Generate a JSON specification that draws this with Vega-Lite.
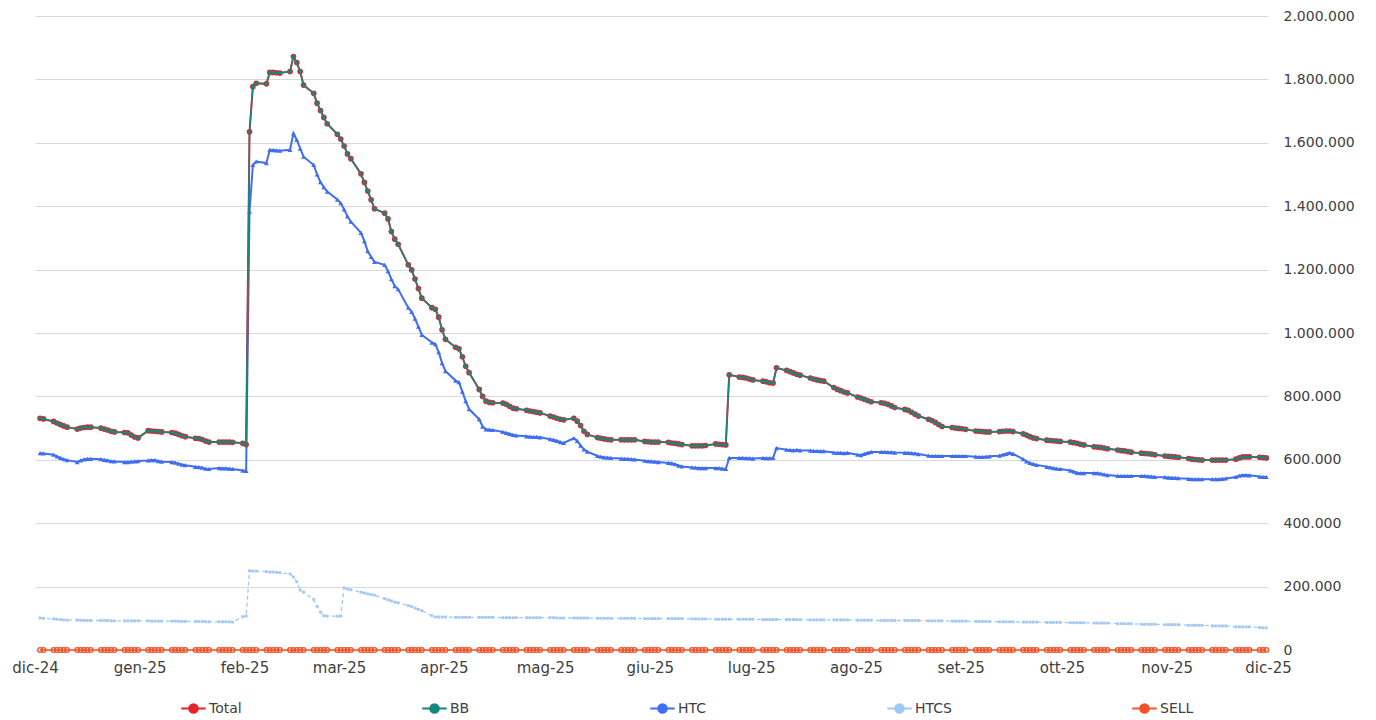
{
"$schema": "https://vega.github.io/schema/vega-lite/v6.json",
"width": 1233, "height": 634,
"autosize": {"type": "none"},
"padding": {"left": 35, "top": 16, "right": 108, "bottom": 70},
"background": "white",
"config": {
  "view": {"stroke": null},
  "font": "DejaVu Sans",
  "locale": {
    "number": {"decimal": ",", "thousands": ".", "grouping": [3], "currency": ["€", ""]},
    "time": {"dateTime": "%A %e %B %Y, %X", "date": "%d/%m/%Y", "time": "%H:%M:%S", "periods": ["AM", "PM"],
      "days": ["domenica","lunedì","martedì","mercoledì","giovedì","venerdì","sabato"],
      "shortDays": ["dom","lun","mar","mer","gio","ven","sab"],
      "months": ["gennaio","febbraio","marzo","aprile","maggio","giugno","luglio","agosto","settembre","ottobre","novembre","dicembre"],
      "shortMonths": ["gen","feb","mar","apr","mag","giu","lug","ago","set","ott","nov","dic"]}
  }
},
"data": {"values": [
{"d":"2024-12-05","Total":731000,"BB":731000,"HTC":621000,"HTCS":101000,"SELL":0},
{"d":"2024-12-06","Total":729000,"BB":729000,"HTC":620000,"HTCS":100000,"SELL":0},
{"d":"2024-12-09","Total":721000,"BB":721000,"HTC":616000,"HTCS":98000,"SELL":0},
{"d":"2024-12-10","Total":716000,"BB":716000,"HTC":611000,"HTCS":97000,"SELL":0},
{"d":"2024-12-11","Total":711000,"BB":711000,"HTC":606000,"HTCS":96000,"SELL":0},
{"d":"2024-12-12","Total":707000,"BB":707000,"HTC":602000,"HTCS":95000,"SELL":0},
{"d":"2024-12-13","Total":703000,"BB":703000,"HTC":599000,"HTCS":94000,"SELL":0},
{"d":"2024-12-16","Total":697000,"BB":697000,"HTC":593000,"HTCS":94000,"SELL":0},
{"d":"2024-12-17","Total":700000,"BB":700000,"HTC":598000,"HTCS":94000,"SELL":0},
{"d":"2024-12-18","Total":702000,"BB":702000,"HTC":601000,"HTCS":93000,"SELL":0},
{"d":"2024-12-19","Total":703000,"BB":703000,"HTC":603000,"HTCS":93000,"SELL":0},
{"d":"2024-12-20","Total":703000,"BB":703000,"HTC":603000,"HTCS":93000,"SELL":0},
{"d":"2024-12-23","Total":700000,"BB":700000,"HTC":602000,"HTCS":93000,"SELL":0},
{"d":"2024-12-24","Total":697000,"BB":697000,"HTC":600000,"HTCS":93000,"SELL":0},
{"d":"2024-12-25","Total":694000,"BB":694000,"HTC":598000,"HTCS":93000,"SELL":0},
{"d":"2024-12-26","Total":690000,"BB":690000,"HTC":596000,"HTCS":92000,"SELL":0},
{"d":"2024-12-27","Total":688000,"BB":688000,"HTC":595000,"HTCS":92000,"SELL":0},
{"d":"2024-12-30","Total":686000,"BB":686000,"HTC":593000,"HTCS":92000,"SELL":0},
{"d":"2024-12-31","Total":685000,"BB":685000,"HTC":593000,"HTCS":92000,"SELL":0},
{"d":"2025-01-01","Total":678000,"BB":678000,"HTC":594000,"HTCS":92000,"SELL":0},
{"d":"2025-01-02","Total":672000,"BB":672000,"HTC":595000,"HTCS":92000,"SELL":0},
{"d":"2025-01-03","Total":669000,"BB":669000,"HTC":596000,"HTCS":92000,"SELL":0},
{"d":"2025-01-06","Total":692000,"BB":692000,"HTC":598000,"HTCS":92000,"SELL":0},
{"d":"2025-01-07","Total":691000,"BB":691000,"HTC":599000,"HTCS":91000,"SELL":0},
{"d":"2025-01-08","Total":690000,"BB":690000,"HTC":599000,"HTCS":91000,"SELL":0},
{"d":"2025-01-09","Total":689000,"BB":689000,"HTC":596000,"HTCS":91000,"SELL":0},
{"d":"2025-01-10","Total":688000,"BB":688000,"HTC":594000,"HTCS":91000,"SELL":0},
{"d":"2025-01-13","Total":686000,"BB":686000,"HTC":593000,"HTCS":91000,"SELL":0},
{"d":"2025-01-14","Total":684000,"BB":684000,"HTC":591000,"HTCS":91000,"SELL":0},
{"d":"2025-01-15","Total":680000,"BB":680000,"HTC":588000,"HTCS":91000,"SELL":0},
{"d":"2025-01-16","Total":676000,"BB":676000,"HTC":585000,"HTCS":90000,"SELL":0},
{"d":"2025-01-17","Total":673000,"BB":673000,"HTC":583000,"HTCS":90000,"SELL":0},
{"d":"2025-01-20","Total":668000,"BB":668000,"HTC":578000,"HTCS":90000,"SELL":0},
{"d":"2025-01-21","Total":667000,"BB":667000,"HTC":577000,"HTCS":90000,"SELL":0},
{"d":"2025-01-22","Total":664000,"BB":664000,"HTC":575000,"HTCS":90000,"SELL":0},
{"d":"2025-01-23","Total":659000,"BB":659000,"HTC":572000,"HTCS":89000,"SELL":0},
{"d":"2025-01-24","Total":656000,"BB":656000,"HTC":571000,"HTCS":89000,"SELL":0},
{"d":"2025-01-27","Total":656000,"BB":656000,"HTC":574000,"HTCS":89000,"SELL":0},
{"d":"2025-01-28","Total":656000,"BB":656000,"HTC":573000,"HTCS":89000,"SELL":0},
{"d":"2025-01-29","Total":656000,"BB":656000,"HTC":573000,"HTCS":89000,"SELL":0},
{"d":"2025-01-30","Total":656000,"BB":656000,"HTC":572000,"HTCS":89000,"SELL":0},
{"d":"2025-01-31","Total":655000,"BB":655000,"HTC":571000,"HTCS":88000,"SELL":0},
{"d":"2025-02-03","Total":652000,"BB":652000,"HTC":566000,"HTCS":105000,"SELL":0},
{"d":"2025-02-04","Total":648000,"BB":648000,"HTC":565000,"HTCS":107000,"SELL":0},
{"d":"2025-02-05","Total":1635000,"BB":1635000,"HTC":1383000,"HTCS":250000,"SELL":0},
{"d":"2025-02-06","Total":1777000,"BB":1777000,"HTC":1530000,"HTCS":249000,"SELL":0},
{"d":"2025-02-07","Total":1788000,"BB":1788000,"HTC":1541000,"HTCS":249000,"SELL":0},
{"d":"2025-02-10","Total":1786000,"BB":1786000,"HTC":1536000,"HTCS":247000,"SELL":0},
{"d":"2025-02-11","Total":1822000,"BB":1822000,"HTC":1578000,"HTCS":246000,"SELL":0},
{"d":"2025-02-12","Total":1822000,"BB":1822000,"HTC":1577000,"HTCS":246000,"SELL":0},
{"d":"2025-02-13","Total":1821000,"BB":1821000,"HTC":1576000,"HTCS":245000,"SELL":0},
{"d":"2025-02-14","Total":1820000,"BB":1820000,"HTC":1575000,"HTCS":244000,"SELL":0},
{"d":"2025-02-17","Total":1825000,"BB":1825000,"HTC":1578000,"HTCS":240000,"SELL":0},
{"d":"2025-02-18","Total":1872000,"BB":1872000,"HTC":1630000,"HTCS":230000,"SELL":0},
{"d":"2025-02-19","Total":1853000,"BB":1853000,"HTC":1609000,"HTCS":215000,"SELL":0},
{"d":"2025-02-20","Total":1825000,"BB":1825000,"HTC":1582000,"HTCS":189000,"SELL":0},
{"d":"2025-02-21","Total":1782000,"BB":1782000,"HTC":1556000,"HTCS":182000,"SELL":0},
{"d":"2025-02-24","Total":1756000,"BB":1756000,"HTC":1530000,"HTCS":160000,"SELL":0},
{"d":"2025-02-25","Total":1725000,"BB":1725000,"HTC":1500000,"HTCS":138000,"SELL":0},
{"d":"2025-02-26","Total":1702000,"BB":1702000,"HTC":1476000,"HTCS":120000,"SELL":0},
{"d":"2025-02-27","Total":1680000,"BB":1680000,"HTC":1460000,"HTCS":108000,"SELL":0},
{"d":"2025-02-28","Total":1660000,"BB":1660000,"HTC":1446000,"HTCS":107000,"SELL":0},
{"d":"2025-03-03","Total":1627000,"BB":1627000,"HTC":1421000,"HTCS":107000,"SELL":0},
{"d":"2025-03-04","Total":1612000,"BB":1612000,"HTC":1410000,"HTCS":107000,"SELL":0},
{"d":"2025-03-05","Total":1590000,"BB":1590000,"HTC":1390000,"HTCS":196000,"SELL":0},
{"d":"2025-03-06","Total":1565000,"BB":1565000,"HTC":1368000,"HTCS":192000,"SELL":0},
{"d":"2025-03-07","Total":1550000,"BB":1550000,"HTC":1351000,"HTCS":190000,"SELL":0},
{"d":"2025-03-10","Total":1502000,"BB":1502000,"HTC":1316000,"HTCS":182000,"SELL":0},
{"d":"2025-03-11","Total":1475000,"BB":1475000,"HTC":1290000,"HTCS":180000,"SELL":0},
{"d":"2025-03-12","Total":1448000,"BB":1448000,"HTC":1258000,"HTCS":177000,"SELL":0},
{"d":"2025-03-13","Total":1420000,"BB":1420000,"HTC":1240000,"HTCS":175000,"SELL":0},
{"d":"2025-03-14","Total":1392000,"BB":1392000,"HTC":1224000,"HTCS":173000,"SELL":0},
{"d":"2025-03-17","Total":1378000,"BB":1378000,"HTC":1215000,"HTCS":162000,"SELL":0},
{"d":"2025-03-18","Total":1360000,"BB":1360000,"HTC":1195000,"HTCS":158000,"SELL":0},
{"d":"2025-03-19","Total":1320000,"BB":1320000,"HTC":1170000,"HTCS":155000,"SELL":0},
{"d":"2025-03-20","Total":1296000,"BB":1296000,"HTC":1148000,"HTCS":151000,"SELL":0},
{"d":"2025-03-21","Total":1280000,"BB":1280000,"HTC":1138000,"HTCS":149000,"SELL":0},
{"d":"2025-03-24","Total":1215000,"BB":1215000,"HTC":1080000,"HTCS":140000,"SELL":0},
{"d":"2025-03-25","Total":1199000,"BB":1199000,"HTC":1067000,"HTCS":137000,"SELL":0},
{"d":"2025-03-26","Total":1170000,"BB":1170000,"HTC":1045000,"HTCS":132000,"SELL":0},
{"d":"2025-03-27","Total":1140000,"BB":1140000,"HTC":1020000,"HTCS":128000,"SELL":0},
{"d":"2025-03-28","Total":1110000,"BB":1110000,"HTC":994000,"HTCS":124000,"SELL":0},
{"d":"2025-03-31","Total":1080000,"BB":1080000,"HTC":970000,"HTCS":108000,"SELL":0},
{"d":"2025-04-01","Total":1075000,"BB":1075000,"HTC":965000,"HTCS":104000,"SELL":0},
{"d":"2025-04-02","Total":1050000,"BB":1050000,"HTC":940000,"HTCS":104000,"SELL":0},
{"d":"2025-04-03","Total":1010000,"BB":1010000,"HTC":905000,"HTCS":104000,"SELL":0},
{"d":"2025-04-04","Total":980000,"BB":980000,"HTC":880000,"HTCS":104000,"SELL":0},
{"d":"2025-04-07","Total":955000,"BB":955000,"HTC":850000,"HTCS":103000,"SELL":0},
{"d":"2025-04-08","Total":950000,"BB":950000,"HTC":845000,"HTCS":103000,"SELL":0},
{"d":"2025-04-09","Total":925000,"BB":925000,"HTC":815000,"HTCS":103000,"SELL":0},
{"d":"2025-04-10","Total":895000,"BB":895000,"HTC":785000,"HTCS":103000,"SELL":0},
{"d":"2025-04-11","Total":875000,"BB":875000,"HTC":760000,"HTCS":103000,"SELL":0},
{"d":"2025-04-14","Total":822000,"BB":822000,"HTC":728000,"HTCS":103000,"SELL":0},
{"d":"2025-04-15","Total":800000,"BB":800000,"HTC":705000,"HTCS":103000,"SELL":0},
{"d":"2025-04-16","Total":785000,"BB":785000,"HTC":696000,"HTCS":103000,"SELL":0},
{"d":"2025-04-17","Total":781000,"BB":781000,"HTC":695000,"HTCS":103000,"SELL":0},
{"d":"2025-04-18","Total":780000,"BB":780000,"HTC":694000,"HTCS":103000,"SELL":0},
{"d":"2025-04-21","Total":779000,"BB":779000,"HTC":688000,"HTCS":102000,"SELL":0},
{"d":"2025-04-22","Total":775000,"BB":775000,"HTC":685000,"HTCS":102000,"SELL":0},
{"d":"2025-04-23","Total":769000,"BB":769000,"HTC":682000,"HTCS":102000,"SELL":0},
{"d":"2025-04-24","Total":763000,"BB":763000,"HTC":679000,"HTCS":102000,"SELL":0},
{"d":"2025-04-25","Total":761000,"BB":761000,"HTC":677000,"HTCS":102000,"SELL":0},
{"d":"2025-04-28","Total":756000,"BB":756000,"HTC":674000,"HTCS":102000,"SELL":0},
{"d":"2025-04-29","Total":754000,"BB":754000,"HTC":673000,"HTCS":102000,"SELL":0},
{"d":"2025-04-30","Total":752000,"BB":752000,"HTC":672000,"HTCS":102000,"SELL":0},
{"d":"2025-05-01","Total":750000,"BB":750000,"HTC":672000,"HTCS":102000,"SELL":0},
{"d":"2025-05-02","Total":748000,"BB":748000,"HTC":671000,"HTCS":102000,"SELL":0},
{"d":"2025-05-05","Total":738000,"BB":738000,"HTC":665000,"HTCS":102000,"SELL":0},
{"d":"2025-05-06","Total":735000,"BB":735000,"HTC":663000,"HTCS":102000,"SELL":0},
{"d":"2025-05-07","Total":731000,"BB":731000,"HTC":660000,"HTCS":101000,"SELL":0},
{"d":"2025-05-08","Total":728000,"BB":728000,"HTC":656000,"HTCS":101000,"SELL":0},
{"d":"2025-05-09","Total":726000,"BB":726000,"HTC":653000,"HTCS":101000,"SELL":0},
{"d":"2025-05-12","Total":731000,"BB":731000,"HTC":668000,"HTCS":101000,"SELL":0},
{"d":"2025-05-13","Total":722000,"BB":722000,"HTC":660000,"HTCS":101000,"SELL":0},
{"d":"2025-05-14","Total":708000,"BB":708000,"HTC":645000,"HTCS":101000,"SELL":0},
{"d":"2025-05-15","Total":690000,"BB":690000,"HTC":633000,"HTCS":101000,"SELL":0},
{"d":"2025-05-16","Total":680000,"BB":680000,"HTC":626000,"HTCS":101000,"SELL":0},
{"d":"2025-05-19","Total":670000,"BB":670000,"HTC":612000,"HTCS":100000,"SELL":0},
{"d":"2025-05-20","Total":668000,"BB":668000,"HTC":610000,"HTCS":100000,"SELL":0},
{"d":"2025-05-21","Total":666000,"BB":666000,"HTC":608000,"HTCS":100000,"SELL":0},
{"d":"2025-05-22","Total":664000,"BB":664000,"HTC":607000,"HTCS":100000,"SELL":0},
{"d":"2025-05-23","Total":663000,"BB":663000,"HTC":606000,"HTCS":100000,"SELL":0},
{"d":"2025-05-26","Total":663000,"BB":663000,"HTC":604000,"HTCS":100000,"SELL":0},
{"d":"2025-05-27","Total":663000,"BB":663000,"HTC":603000,"HTCS":100000,"SELL":0},
{"d":"2025-05-28","Total":663000,"BB":663000,"HTC":603000,"HTCS":100000,"SELL":0},
{"d":"2025-05-29","Total":663000,"BB":663000,"HTC":602000,"HTCS":100000,"SELL":0},
{"d":"2025-05-30","Total":663000,"BB":663000,"HTC":601000,"HTCS":100000,"SELL":0},
{"d":"2025-06-02","Total":658000,"BB":658000,"HTC":597000,"HTCS":99000,"SELL":0},
{"d":"2025-06-03","Total":657000,"BB":657000,"HTC":596000,"HTCS":99000,"SELL":0},
{"d":"2025-06-04","Total":656000,"BB":656000,"HTC":595000,"HTCS":99000,"SELL":0},
{"d":"2025-06-05","Total":656000,"BB":656000,"HTC":594000,"HTCS":99000,"SELL":0},
{"d":"2025-06-06","Total":656000,"BB":656000,"HTC":593000,"HTCS":99000,"SELL":0},
{"d":"2025-06-09","Total":655000,"BB":655000,"HTC":590000,"HTCS":99000,"SELL":0},
{"d":"2025-06-10","Total":653000,"BB":653000,"HTC":589000,"HTCS":99000,"SELL":0},
{"d":"2025-06-11","Total":652000,"BB":652000,"HTC":586000,"HTCS":99000,"SELL":0},
{"d":"2025-06-12","Total":650000,"BB":650000,"HTC":582000,"HTCS":99000,"SELL":0},
{"d":"2025-06-13","Total":648000,"BB":648000,"HTC":579000,"HTCS":99000,"SELL":0},
{"d":"2025-06-16","Total":644000,"BB":644000,"HTC":576000,"HTCS":98000,"SELL":0},
{"d":"2025-06-17","Total":644000,"BB":644000,"HTC":575000,"HTCS":98000,"SELL":0},
{"d":"2025-06-18","Total":644000,"BB":644000,"HTC":574000,"HTCS":98000,"SELL":0},
{"d":"2025-06-19","Total":644000,"BB":644000,"HTC":574000,"HTCS":98000,"SELL":0},
{"d":"2025-06-20","Total":645000,"BB":645000,"HTC":574000,"HTCS":98000,"SELL":0},
{"d":"2025-06-23","Total":650000,"BB":650000,"HTC":574000,"HTCS":97000,"SELL":0},
{"d":"2025-06-24","Total":649000,"BB":649000,"HTC":574000,"HTCS":97000,"SELL":0},
{"d":"2025-06-25","Total":648000,"BB":648000,"HTC":572000,"HTCS":97000,"SELL":0},
{"d":"2025-06-26","Total":647000,"BB":647000,"HTC":571000,"HTCS":97000,"SELL":0},
{"d":"2025-06-27","Total":868000,"BB":868000,"HTC":606000,"HTCS":97000,"SELL":0},
{"d":"2025-06-30","Total":861000,"BB":861000,"HTC":606000,"HTCS":97000,"SELL":0},
{"d":"2025-07-01","Total":860000,"BB":860000,"HTC":606000,"HTCS":97000,"SELL":0},
{"d":"2025-07-02","Total":858000,"BB":858000,"HTC":605000,"HTCS":97000,"SELL":0},
{"d":"2025-07-03","Total":855000,"BB":855000,"HTC":605000,"HTCS":97000,"SELL":0},
{"d":"2025-07-04","Total":852000,"BB":852000,"HTC":604000,"HTCS":97000,"SELL":0},
{"d":"2025-07-07","Total":848000,"BB":848000,"HTC":606000,"HTCS":96000,"SELL":0},
{"d":"2025-07-08","Total":846000,"BB":846000,"HTC":605000,"HTCS":96000,"SELL":0},
{"d":"2025-07-09","Total":843000,"BB":843000,"HTC":605000,"HTCS":96000,"SELL":0},
{"d":"2025-07-10","Total":842000,"BB":842000,"HTC":606000,"HTCS":96000,"SELL":0},
{"d":"2025-07-11","Total":890000,"BB":890000,"HTC":637000,"HTCS":96000,"SELL":0},
{"d":"2025-07-14","Total":882000,"BB":882000,"HTC":632000,"HTCS":96000,"SELL":0},
{"d":"2025-07-15","Total":878000,"BB":878000,"HTC":631000,"HTCS":96000,"SELL":0},
{"d":"2025-07-16","Total":874000,"BB":874000,"HTC":630000,"HTCS":96000,"SELL":0},
{"d":"2025-07-17","Total":870000,"BB":870000,"HTC":631000,"HTCS":96000,"SELL":0},
{"d":"2025-07-18","Total":867000,"BB":867000,"HTC":630000,"HTCS":96000,"SELL":0},
{"d":"2025-07-21","Total":858000,"BB":858000,"HTC":629000,"HTCS":95000,"SELL":0},
{"d":"2025-07-22","Total":855000,"BB":855000,"HTC":628000,"HTCS":95000,"SELL":0},
{"d":"2025-07-23","Total":852000,"BB":852000,"HTC":628000,"HTCS":95000,"SELL":0},
{"d":"2025-07-24","Total":850000,"BB":850000,"HTC":627000,"HTCS":95000,"SELL":0},
{"d":"2025-07-25","Total":848000,"BB":848000,"HTC":627000,"HTCS":95000,"SELL":0},
{"d":"2025-07-28","Total":828000,"BB":828000,"HTC":623000,"HTCS":95000,"SELL":0},
{"d":"2025-07-29","Total":822000,"BB":822000,"HTC":622000,"HTCS":95000,"SELL":0},
{"d":"2025-07-30","Total":818000,"BB":818000,"HTC":622000,"HTCS":95000,"SELL":0},
{"d":"2025-07-31","Total":814000,"BB":814000,"HTC":621000,"HTCS":95000,"SELL":0},
{"d":"2025-08-01","Total":811000,"BB":811000,"HTC":622000,"HTCS":95000,"SELL":0},
{"d":"2025-08-04","Total":798000,"BB":798000,"HTC":616000,"HTCS":94000,"SELL":0},
{"d":"2025-08-05","Total":795000,"BB":795000,"HTC":615000,"HTCS":94000,"SELL":0},
{"d":"2025-08-06","Total":791000,"BB":791000,"HTC":619000,"HTCS":94000,"SELL":0},
{"d":"2025-08-07","Total":787000,"BB":787000,"HTC":622000,"HTCS":94000,"SELL":0},
{"d":"2025-08-08","Total":783000,"BB":783000,"HTC":625000,"HTCS":94000,"SELL":0},
{"d":"2025-08-11","Total":780000,"BB":780000,"HTC":625000,"HTCS":93000,"SELL":0},
{"d":"2025-08-12","Total":778000,"BB":778000,"HTC":625000,"HTCS":93000,"SELL":0},
{"d":"2025-08-13","Total":775000,"BB":775000,"HTC":624000,"HTCS":93000,"SELL":0},
{"d":"2025-08-14","Total":770000,"BB":770000,"HTC":624000,"HTCS":93000,"SELL":0},
{"d":"2025-08-15","Total":765000,"BB":765000,"HTC":623000,"HTCS":93000,"SELL":0},
{"d":"2025-08-18","Total":759000,"BB":759000,"HTC":622000,"HTCS":93000,"SELL":0},
{"d":"2025-08-19","Total":756000,"BB":756000,"HTC":622000,"HTCS":93000,"SELL":0},
{"d":"2025-08-20","Total":750000,"BB":750000,"HTC":621000,"HTCS":93000,"SELL":0},
{"d":"2025-08-21","Total":744000,"BB":744000,"HTC":620000,"HTCS":93000,"SELL":0},
{"d":"2025-08-22","Total":738000,"BB":738000,"HTC":618000,"HTCS":93000,"SELL":0},
{"d":"2025-08-25","Total":728000,"BB":728000,"HTC":613000,"HTCS":92000,"SELL":0},
{"d":"2025-08-26","Total":724000,"BB":724000,"HTC":612000,"HTCS":92000,"SELL":0},
{"d":"2025-08-27","Total":718000,"BB":718000,"HTC":612000,"HTCS":92000,"SELL":0},
{"d":"2025-08-28","Total":711000,"BB":711000,"HTC":612000,"HTCS":92000,"SELL":0},
{"d":"2025-08-29","Total":705000,"BB":705000,"HTC":612000,"HTCS":92000,"SELL":0},
{"d":"2025-09-01","Total":702000,"BB":702000,"HTC":612000,"HTCS":91000,"SELL":0},
{"d":"2025-09-02","Total":700000,"BB":700000,"HTC":612000,"HTCS":91000,"SELL":0},
{"d":"2025-09-03","Total":699000,"BB":699000,"HTC":612000,"HTCS":91000,"SELL":0},
{"d":"2025-09-04","Total":698000,"BB":698000,"HTC":612000,"HTCS":91000,"SELL":0},
{"d":"2025-09-05","Total":696000,"BB":696000,"HTC":612000,"HTCS":91000,"SELL":0},
{"d":"2025-09-08","Total":691000,"BB":691000,"HTC":610000,"HTCS":90000,"SELL":0},
{"d":"2025-09-09","Total":690000,"BB":690000,"HTC":609000,"HTCS":90000,"SELL":0},
{"d":"2025-09-10","Total":689000,"BB":689000,"HTC":609000,"HTCS":90000,"SELL":0},
{"d":"2025-09-11","Total":688000,"BB":688000,"HTC":610000,"HTCS":90000,"SELL":0},
{"d":"2025-09-12","Total":688000,"BB":688000,"HTC":611000,"HTCS":90000,"SELL":0},
{"d":"2025-09-15","Total":689000,"BB":689000,"HTC":613000,"HTCS":89000,"SELL":0},
{"d":"2025-09-16","Total":690000,"BB":690000,"HTC":616000,"HTCS":89000,"SELL":0},
{"d":"2025-09-17","Total":691000,"BB":691000,"HTC":619000,"HTCS":89000,"SELL":0},
{"d":"2025-09-18","Total":691000,"BB":691000,"HTC":622000,"HTCS":89000,"SELL":0},
{"d":"2025-09-19","Total":689000,"BB":689000,"HTC":619000,"HTCS":89000,"SELL":0},
{"d":"2025-09-22","Total":682000,"BB":682000,"HTC":602000,"HTCS":88000,"SELL":0},
{"d":"2025-09-23","Total":678000,"BB":678000,"HTC":595000,"HTCS":88000,"SELL":0},
{"d":"2025-09-24","Total":673000,"BB":673000,"HTC":590000,"HTCS":88000,"SELL":0},
{"d":"2025-09-25","Total":669000,"BB":669000,"HTC":587000,"HTCS":88000,"SELL":0},
{"d":"2025-09-26","Total":667000,"BB":667000,"HTC":584000,"HTCS":88000,"SELL":0},
{"d":"2025-09-29","Total":662000,"BB":662000,"HTC":578000,"HTCS":87000,"SELL":0},
{"d":"2025-09-30","Total":661000,"BB":661000,"HTC":576000,"HTCS":87000,"SELL":0},
{"d":"2025-10-01","Total":660000,"BB":660000,"HTC":574000,"HTCS":87000,"SELL":0},
{"d":"2025-10-02","Total":659000,"BB":659000,"HTC":572000,"HTCS":87000,"SELL":0},
{"d":"2025-10-03","Total":658000,"BB":658000,"HTC":571000,"HTCS":87000,"SELL":0},
{"d":"2025-10-06","Total":656000,"BB":656000,"HTC":566000,"HTCS":86000,"SELL":0},
{"d":"2025-10-07","Total":654000,"BB":654000,"HTC":563000,"HTCS":86000,"SELL":0},
{"d":"2025-10-08","Total":652000,"BB":652000,"HTC":559000,"HTCS":86000,"SELL":0},
{"d":"2025-10-09","Total":649000,"BB":649000,"HTC":558000,"HTCS":86000,"SELL":0},
{"d":"2025-10-10","Total":647000,"BB":647000,"HTC":558000,"HTCS":86000,"SELL":0},
{"d":"2025-10-13","Total":641000,"BB":641000,"HTC":558000,"HTCS":85000,"SELL":0},
{"d":"2025-10-14","Total":640000,"BB":640000,"HTC":558000,"HTCS":85000,"SELL":0},
{"d":"2025-10-15","Total":639000,"BB":639000,"HTC":556000,"HTCS":85000,"SELL":0},
{"d":"2025-10-16","Total":637000,"BB":637000,"HTC":554000,"HTCS":85000,"SELL":0},
{"d":"2025-10-17","Total":635000,"BB":635000,"HTC":552000,"HTCS":85000,"SELL":0},
{"d":"2025-10-20","Total":631000,"BB":631000,"HTC":549000,"HTCS":83000,"SELL":0},
{"d":"2025-10-21","Total":629000,"BB":629000,"HTC":549000,"HTCS":83000,"SELL":0},
{"d":"2025-10-22","Total":628000,"BB":628000,"HTC":549000,"HTCS":83000,"SELL":0},
{"d":"2025-10-23","Total":626000,"BB":626000,"HTC":549000,"HTCS":83000,"SELL":0},
{"d":"2025-10-24","Total":624000,"BB":624000,"HTC":549000,"HTCS":83000,"SELL":0},
{"d":"2025-10-27","Total":621000,"BB":621000,"HTC":549000,"HTCS":81000,"SELL":0},
{"d":"2025-10-28","Total":620000,"BB":620000,"HTC":549000,"HTCS":81000,"SELL":0},
{"d":"2025-10-29","Total":619000,"BB":619000,"HTC":548000,"HTCS":81000,"SELL":0},
{"d":"2025-10-30","Total":618000,"BB":618000,"HTC":547000,"HTCS":81000,"SELL":0},
{"d":"2025-10-31","Total":616000,"BB":616000,"HTC":546000,"HTCS":81000,"SELL":0},
{"d":"2025-11-03","Total":612000,"BB":612000,"HTC":545000,"HTCS":80000,"SELL":0},
{"d":"2025-11-04","Total":611000,"BB":611000,"HTC":544000,"HTCS":80000,"SELL":0},
{"d":"2025-11-05","Total":610000,"BB":610000,"HTC":543000,"HTCS":80000,"SELL":0},
{"d":"2025-11-06","Total":609000,"BB":609000,"HTC":543000,"HTCS":80000,"SELL":0},
{"d":"2025-11-07","Total":608000,"BB":608000,"HTC":542000,"HTCS":80000,"SELL":0},
{"d":"2025-11-10","Total":604000,"BB":604000,"HTC":540000,"HTCS":78000,"SELL":0},
{"d":"2025-11-11","Total":602000,"BB":602000,"HTC":539000,"HTCS":78000,"SELL":0},
{"d":"2025-11-12","Total":601000,"BB":601000,"HTC":539000,"HTCS":78000,"SELL":0},
{"d":"2025-11-13","Total":600000,"BB":600000,"HTC":539000,"HTCS":78000,"SELL":0},
{"d":"2025-11-14","Total":599000,"BB":599000,"HTC":539000,"HTCS":78000,"SELL":0},
{"d":"2025-11-17","Total":599000,"BB":599000,"HTC":539000,"HTCS":76000,"SELL":0},
{"d":"2025-11-18","Total":599000,"BB":599000,"HTC":539000,"HTCS":76000,"SELL":0},
{"d":"2025-11-19","Total":599000,"BB":599000,"HTC":539000,"HTCS":76000,"SELL":0},
{"d":"2025-11-20","Total":599000,"BB":599000,"HTC":540000,"HTCS":76000,"SELL":0},
{"d":"2025-11-21","Total":599000,"BB":599000,"HTC":541000,"HTCS":76000,"SELL":0},
{"d":"2025-11-24","Total":602000,"BB":602000,"HTC":546000,"HTCS":73000,"SELL":0},
{"d":"2025-11-25","Total":606000,"BB":606000,"HTC":550000,"HTCS":73000,"SELL":0},
{"d":"2025-11-26","Total":609000,"BB":609000,"HTC":552000,"HTCS":73000,"SELL":0},
{"d":"2025-11-27","Total":609000,"BB":609000,"HTC":552000,"HTCS":73000,"SELL":0},
{"d":"2025-11-28","Total":609000,"BB":609000,"HTC":551000,"HTCS":73000,"SELL":0},
{"d":"2025-12-01","Total":608000,"BB":608000,"HTC":547000,"HTCS":71000,"SELL":0},
{"d":"2025-12-02","Total":607000,"BB":607000,"HTC":546000,"HTCS":70000,"SELL":0},
{"d":"2025-12-03","Total":606000,"BB":606000,"HTC":546000,"HTCS":70000,"SELL":0}
]},
"transform": [{"fold": ["Total", "BB", "HTC", "HTCS", "SELL"], "as": ["Serie", "v"]}],
"encoding": {
  "x": {"field": "d", "type": "temporal",
    "scale": {"type": "utc", "domain": [1733227200000, 1764763200000]},
    "axis": {"title": null, "values": [1733227200000, 1735905600000, 1738584000000, 1741003200000, 1743681600000, 1746273600000, 1748952000000, 1751544000000, 1754222400000, 1756900800000, 1759492800000, 1762171200000, 1764763200000],
      "labelExpr": "utcFormat(datum.value, '%b-%y')", "labelFontSize": 15, "labelColor": "#404040", "labelPadding": 10,
      "grid": false, "domain": false, "ticks": false, "labelFlush": false, "labelOverlap": false}},
  "y": {"field": "v", "type": "quantitative",
    "scale": {"domain": [0, 2000000], "nice": false, "zero": true},
    "axis": {"orient": "right", "title": null, "values": [0, 200000, 400000, 600000, 800000, 1000000, 1200000, 1400000, 1600000, 1800000, 2000000],
      "format": ",.0f", "labelFontSize": 14, "labelColor": "#404040", "labelPadding": 15,
      "grid": true, "gridColor": "#d9d9d9", "gridWidth": 1, "domain": false, "ticks": false}},
  "color": {"field": "Serie", "type": "nominal",
    "scale": {"domain": ["Total", "BB", "HTC", "HTCS", "SELL"], "range": ["#e5222d", "#17877a", "#3f6ef2", "#a4c8f4", "#f2532a"]},
    "legend": {"title": null, "orient": "none", "legendX": 145, "legendY": 679, "direction": "horizontal", "columns": 5,
      "columnPadding": 176, "gridAlign": "none", "padding": 0,
      "symbolType": "M-1,0H-0.35M0.35,0H1M0.35,0A0.35,0.35 0 1 1 -0.35,0A0.35,0.35 0 1 1 0.35,0",
      "symbolSize": 600, "symbolStrokeWidth": 2, "labelFontSize": 14, "labelColor": "#404040", "labelOffset": 2}}
},
"layer": [
  {"transform": [{"filter": {"field": "Serie", "equal": "SELL"}}],
   "mark": {"type": "line", "strokeWidth": 1.5, "point": {"filled": false, "shape": "circle", "size": 22, "strokeWidth": 1.3}}},
  {"transform": [{"filter": {"field": "Serie", "equal": "HTCS"}}],
   "mark": {"type": "line", "strokeWidth": 1.3, "strokeDash": [4, 3], "point": {"filled": true, "shape": "square", "size": 8}}},
  {"transform": [{"filter": {"field": "Serie", "equal": "HTC"}}],
   "mark": {"type": "line", "strokeWidth": 2, "point": {"filled": true, "shape": "triangle-up", "size": 24}}},
  {"transform": [{"filter": {"field": "Serie", "equal": "Total"}}],
   "mark": {"type": "line", "strokeWidth": 2, "point": {"filled": true, "shape": "circle", "size": 32}}},
  {"transform": [{"filter": {"field": "Serie", "equal": "BB"}}],
   "mark": {"type": "line", "strokeWidth": 1.5, "point": {"filled": true, "shape": "diamond", "size": 20}}}
]
}
